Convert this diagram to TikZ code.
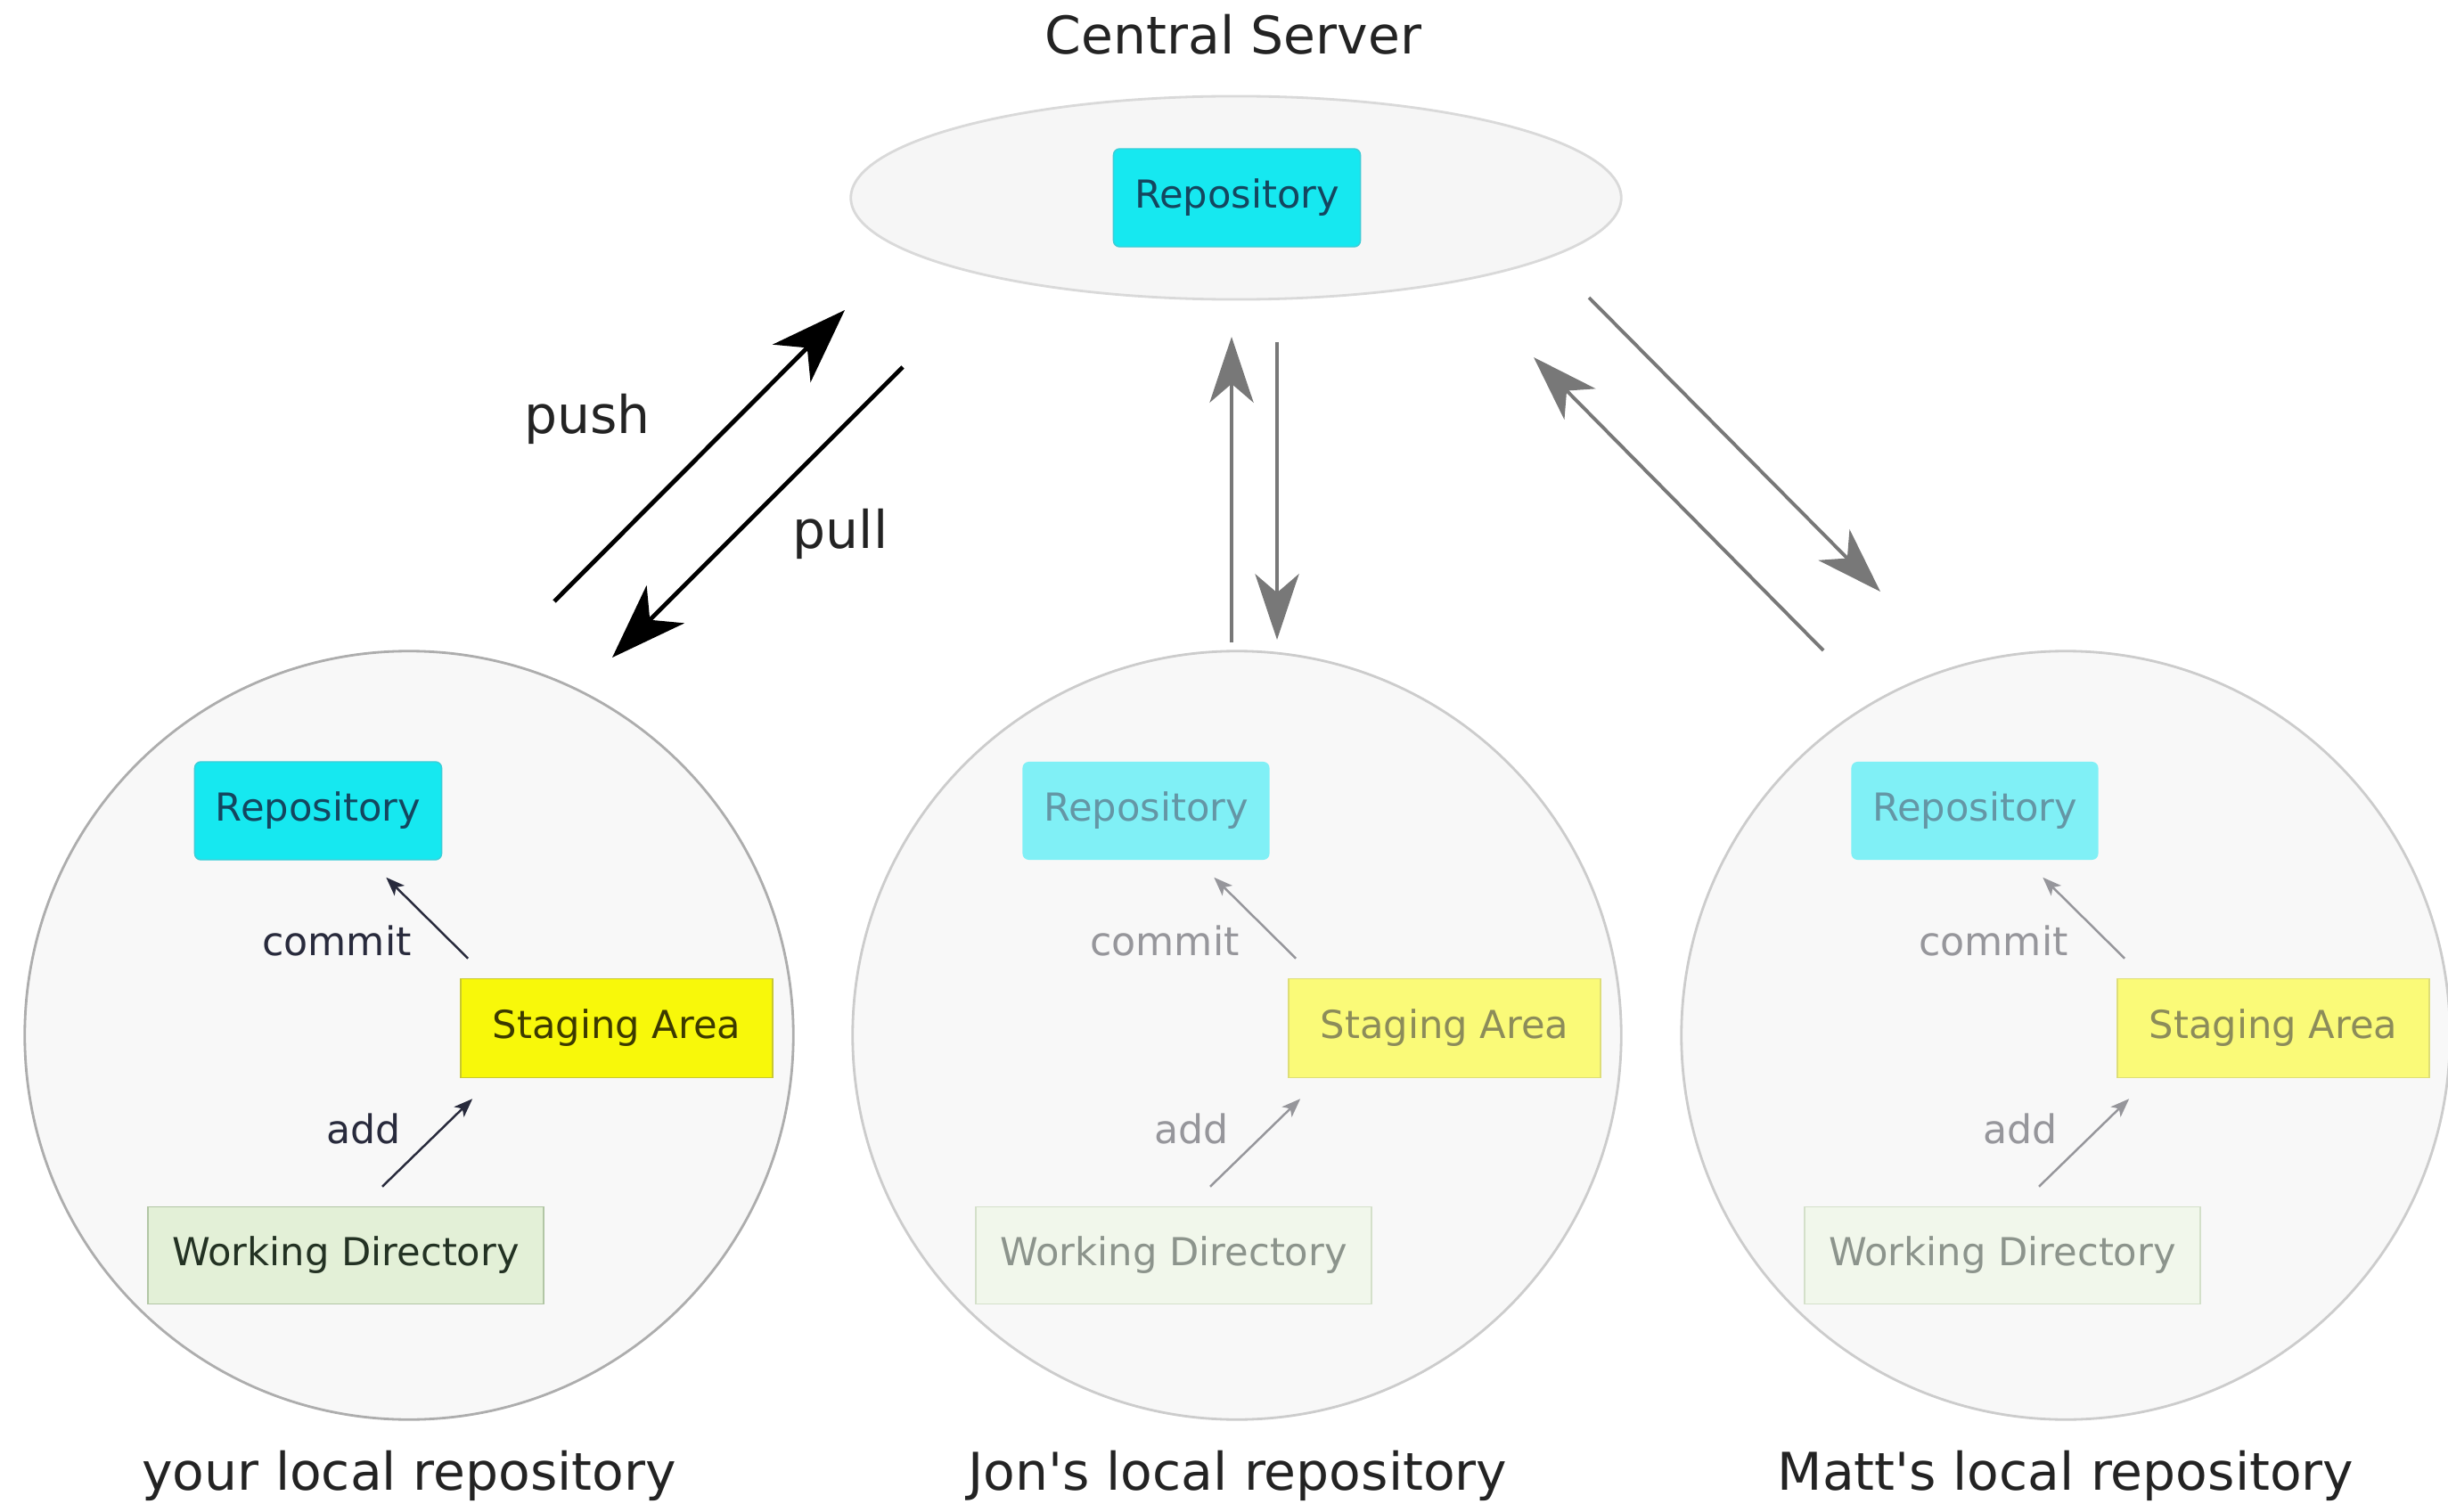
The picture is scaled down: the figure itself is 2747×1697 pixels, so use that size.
\documentclass[tikz,border=0pt]{standalone}
\usepackage{fontspec}
\setmainfont{DejaVu Sans}
\usetikzlibrary{shapes.geometric,arrows.meta}

\definecolor{repofill}{RGB}{22,232,240}
\definecolor{repoline}{RGB}{60,205,215}
\definecolor{repotext}{RGB}{20,70,95}
\definecolor{stagefill}{RGB}{248,248,10}
\definecolor{stageline}{RGB}{200,200,50}
\definecolor{stagetext}{RGB}{60,58,0}
\definecolor{workfill}{RGB}{227,240,215}
\definecolor{workline}{RGB}{178,198,165}
\definecolor{worktext}{RGB}{35,50,35}
\definecolor{fadedrepofill}{RGB}{128,240,246}
\definecolor{fadedrepotext}{RGB}{100,150,165}
\definecolor{fadedstagefill}{RGB}{250,250,120}
\definecolor{fadedstageline}{RGB}{222,222,120}
\definecolor{fadedstagetext}{RGB}{140,140,90}
\definecolor{fadedworkfill}{RGB}{241,247,235}
\definecolor{fadedworkline}{RGB}{212,224,202}
\definecolor{fadedworktext}{RGB}{140,148,140}
\definecolor{localfill}{RGB}{248,248,248}
\definecolor{labeltext}{RGB}{40,42,60}
\definecolor{fadedtext}{RGB}{150,150,155}
\definecolor{titletext}{RGB}{35,35,35}
\definecolor{syncgray}{RGB}{120,120,120}

\begin{document}
\begin{tikzpicture}[x=0.01cm,y=-0.01cm,
  local/.style={circle,minimum size=8.62cm,fill=localfill,line width=0.8pt},
  repobox/.style={rectangle,rounded corners=2pt,minimum width=2.77cm,minimum height=1.1cm,font=\fontsize{12.3}{14}\selectfont},
  stagebox/.style={rectangle,minimum width=3.5cm,minimum height=1.11cm,font=\fontsize{12.3}{14}\selectfont},
  workbox/.style={rectangle,minimum width=4.44cm,minimum height=1.09cm,font=\fontsize{12.3}{14}\selectfont},
  small/.style={font=\fontsize{12.6}{14}\selectfont},
  big/.style={text=titletext,font=\fontsize{16.6}{19}\selectfont},
  steparrow/.style={line width=0.7pt,-{Stealth[length=6pt,width=4.5pt,inset=1.5pt]}},
  pusharrow/.style={line width=1.4pt,-{Stealth[length=24pt,width=17pt,inset=7pt]}},
  syncarrow/.style={syncgray,line width=1.1pt,-{Stealth[length=21pt,width=14pt,inset=6pt]}}]
\useasboundingbox (0,0) rectangle (2747,1697);
%% Central server
\node[big] (servertitle) at (1384,39) {Central Server};
\node[ellipse,minimum width=8.64cm,minimum height=2.28cm,fill=localfill!99!black,draw=black!15,line width=0.8pt] (server) at (1387,222) {};
\node[repobox,fill=repofill,draw=repoline,text=repotext] (serverrepo) at (1388,222) {Repository};
%% Local repositories
\node[local,draw=black!32] (yours) at (459,1162) {};
\node[local,draw=black!20] (jons) at (1388,1162) {};
\node[local,draw=black!20] (matts) at (2318,1162) {};
\node[big] (yourslabel) at (459,1656) {your local repository};
\node[big] (jonslabel) at (1389,1656) {Jon\textquotesingle s local repository};
\node[big] (mattslabel) at (2318,1656) {Matt\textquotesingle s local repository};
%% your local repository
\node[repobox,fill=repofill,draw=repoline,text=repotext] (yoursrepo) at (357,910) {Repository};
\node[stagebox,fill=stagefill,draw=stageline,text=stagetext] (yoursstage) at (692,1154) {Staging Area};
\node[workbox,fill=workfill,draw=workline,text=worktext] (yourswork) at (388,1409) {Working Directory};
\node[small,text=labeltext] (yourscommit) at (378,1056) {commit};
\node[small,text=labeltext] (yoursadd) at (408,1267) {add};
\draw[steparrow,labeltext] ([shift={(9,-22)}]yoursstage.north west)--([shift={(-63,19)}]yoursrepo.south east);
\draw[steparrow,labeltext] ([shift={(41,-22)}]yourswork.north)--([shift={(14,23)}]yoursstage.south west);
%% Jon's local repository
\node[repobox,fill=fadedrepofill,text=fadedrepotext] (jonsrepo) at (1286,910) {Repository};
\node[stagebox,fill=fadedstagefill,draw=fadedstageline,text=fadedstagetext] (jonsstage) at (1621,1154) {Staging Area};
\node[workbox,fill=fadedworkfill,draw=fadedworkline,text=fadedworktext] (jonswork) at (1317,1409) {Working Directory};
\node[small,text=fadedtext] (jonscommit) at (1307,1056) {commit};
\node[small,text=fadedtext] (jonsadd) at (1337,1267) {add};
\draw[steparrow,fadedtext] ([shift={(9,-22)}]jonsstage.north west)--([shift={(-63,19)}]jonsrepo.south east);
\draw[steparrow,fadedtext] ([shift={(41,-22)}]jonswork.north)--([shift={(14,23)}]jonsstage.south west);
%% Matt's local repository
\node[repobox,fill=fadedrepofill,text=fadedrepotext] (mattsrepo) at (2216,910) {Repository};
\node[stagebox,fill=fadedstagefill,draw=fadedstageline,text=fadedstagetext] (mattsstage) at (2551,1154) {Staging Area};
\node[workbox,fill=fadedworkfill,draw=fadedworkline,text=fadedworktext] (mattswork) at (2247,1409) {Working Directory};
\node[small,text=fadedtext] (mattscommit) at (2237,1056) {commit};
\node[small,text=fadedtext] (mattsadd) at (2267,1267) {add};
\draw[steparrow,fadedtext] ([shift={(9,-22)}]mattsstage.north west)--([shift={(-63,19)}]mattsrepo.south east);
\draw[steparrow,fadedtext] ([shift={(41,-22)}]mattswork.north)--([shift={(14,23)}]mattsstage.south west);
%% push and pull
\coordinate (pushfrom) at (622,675);
\coordinate (pushto) at (948,348);
\coordinate (pullfrom) at (1013,412);
\coordinate (pullto) at (687,738);
\draw[pusharrow] (pushfrom)--(pushto);
\draw[pusharrow] (pullfrom)--(pullto);
\node[big] (pushlabel) at (659,470) {push};
\node[big] (pulllabel) at (943,599) {pull};
%% Jon and Matt
\coordinate (jonup) at (1382,721);
\coordinate (jonuptip) at (1382,378);
\coordinate (jondown) at (1433,384);
\coordinate (jondowntip) at (1433,718);
\draw[syncarrow] (jonup)--(jonuptip);
\draw[syncarrow] (jondown)--(jondowntip);
\coordinate (mattup) at (2046,730);
\coordinate (mattuptip) at (1721,401);
\coordinate (mattdown) at (1783,334);
\coordinate (mattdowntip) at (2110,664);
\draw[syncarrow] (mattup)--(mattuptip);
\draw[syncarrow] (mattdown)--(mattdowntip);
\end{tikzpicture}
\end{document}
